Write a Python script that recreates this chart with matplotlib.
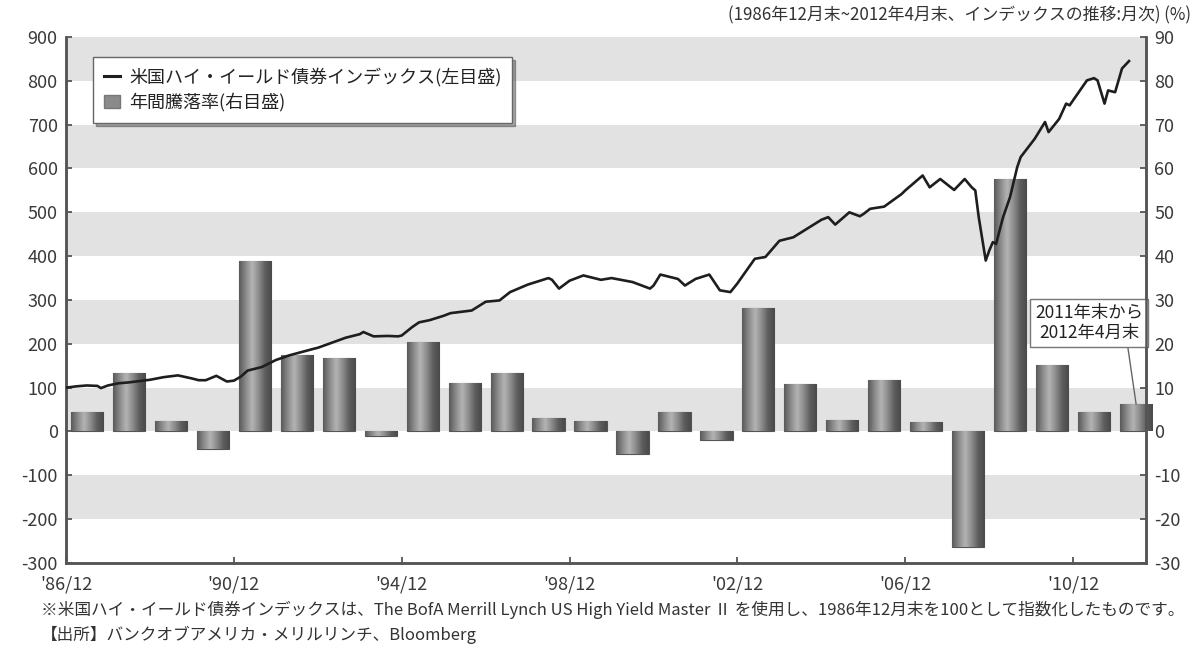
import matplotlib
matplotlib.use("Agg")
import matplotlib.pyplot as plt
import numpy as np
import pandas as pd
from matplotlib.lines import Line2D
from matplotlib.patches import Patch
from matplotlib.colors import LinearSegmentedColormap

plt.rcParams['font.family'] = ['Noto Sans CJK JP', 'DejaVu Sans']
plt.rcParams['axes.unicode_minus'] = False

# ---- data ----
# index (left axis), dates
idx_dates = ["1986-12", "1987-03", "1987-06", "1987-09", "1987-10", "1987-12", "1988-03", "1988-06",
             "1988-10", "1988-12", "1989-04", "1989-08", "1989-12", "1990-02", "1990-04", "1990-07",
             "1990-10", "1990-12", "1991-02", "1991-04", "1991-08", "1991-12", "1992-04", "1992-11",
             "1992-12", "1993-08", "1993-12", "1994-01", "1994-04", "1994-08", "1994-11", "1994-12",
             "1995-03", "1995-05", "1995-08", "1995-12", "1996-02", "1996-08", "1996-12", "1997-04",
             "1997-07", "1997-12", "1998-06", "1998-07", "1998-09", "1998-12", "1999-04", "1999-09",
             "1999-12", "2000-06", "2000-11", "2000-12", "2001-02", "2001-07", "2001-09", "2001-12",
             "2002-04", "2002-07", "2002-10", "2002-12", "2003-02", "2003-05", "2003-08", "2003-12",
             "2004-04", "2004-12", "2005-02", "2005-04", "2005-08", "2005-11", "2005-12", "2006-02",
             "2006-06", "2006-11", "2006-12", "2007-05", "2007-07", "2007-10", "2008-02", "2008-05",
             "2008-07", "2008-08", "2008-09", "2008-11", "2008-12", "2009-01", "2009-02", "2009-04",
             "2009-06", "2009-08", "2009-09", "2010-01", "2010-04", "2010-05", "2010-08", "2010-10",
             "2010-11", "2011-02", "2011-04", "2011-06", "2011-07", "2011-09", "2011-10", "2011-12",
             "2012-02", "2012-04"]
idx_values = [100, 103, 105, 104, 99, 105, 110, 112,
              116, 118, 124, 128, 121, 117, 117, 127,
              114, 116, 125, 139, 147, 163, 174, 189,
              191, 214, 222, 227, 217, 218, 217, 219,
              238, 249, 254, 264, 270, 276, 296, 299,
              318, 335, 350, 346, 326, 344, 356, 346,
              350, 341, 326, 333, 358, 348, 333, 348,
              358, 322, 318, 338, 360, 394, 398, 435,
              443, 483, 489, 472, 500, 491, 496, 508,
              513, 542, 550, 584, 557, 576, 551, 576,
              557, 550, 489, 390, 413, 432, 428, 489,
              535, 603, 626, 668, 706, 683, 713, 748,
              744, 778, 801, 806, 801, 748, 778, 774,
              828, 845]

# annual return (right axis, %)
bar_years = list(range(1987, 2013))
bar_values = [4.5, 13.3, 2.3, -4.1, 39.0, 17.4, 16.7, -1.0, 20.5, 11.1, 13.3, 3.0, 2.5,
              -5.1, 4.5, -1.9, 28.2, 10.9, 2.7, 11.8, 2.2, -26.4, 57.5, 15.2, 4.4, 6.2]

xtick_dates = ["1986-12", "1990-12", "1994-12", "1998-12", "2002-12", "2006-12", "2010-12"]
xtick_labels = ["'86/12", "'90/12", "'94/12", "'98/12", "'02/12", "'06/12", "'10/12"]
left_ticks = list(range(-300, 1000, 100))
right_ticks = list(range(-30, 100, 10))

line_label = "米国ハイ・イールド債券インデックス(左目盛)"
bar_label = "年間騰落率(右目盛)"
annot_text = "2011年末から\n2012年4月末"
caption = "(1986年12月末~2012年4月末、インデックスの推移:月次) (%)"
note1 = "※米国ハイ・イールド債券インデックスは、The BofA Merrill Lynch US High Yield Master Ⅱ を使用し、1986年12月末を100として指数化したものです。"
note2 = "【出所】バンクオブアメリカ・メリルリンチ、Bloomberg"

# ---- figure ----
fig = plt.figure(figsize=(11.96, 6.52), dpi=100)
ax = fig.add_axes([0.0552, 0.1365, 0.9030, 0.8068])
ax2 = ax.twinx()
ax.set_zorder(ax2.get_zorder() + 1)
ax.patch.set_visible(False)

tc = '#3a3a3a'
x_idx = pd.to_datetime(idx_dates) + pd.offsets.MonthEnd(0)
bar_x = pd.to_datetime([f"{y}-07-01" for y in bar_years])

# background bands
for lo in range(-20, 90, 20):
    ax2.axhspan(lo, lo + 10, color='#e2e2e2', zorder=0, lw=0)

# bars with cylinder gradient
bw = pd.Timedelta(days=280)
bars = ax2.bar(bar_x, bar_values, width=bw, color='#888888', edgecolor='#555555', linewidth=0.8, zorder=2)
cmap = LinearSegmentedColormap.from_list('cyl', ['#5a5a5a', '#8a8a8a', '#b4b4b4', '#8c8c8c', '#5e5e5e', '#4a4a4a'])
grad = np.linspace(0, 1, 64).reshape(1, -1)
for b in bars:
    x0, y0 = b.get_x(), b.get_y()
    w, h = b.get_width(), b.get_height()
    im = ax2.imshow(grad, cmap=cmap, aspect='auto', extent=[x0, x0 + w, y0, y0 + h], zorder=2.5,
                    interpolation='bicubic')
    im.set_clip_path(b)
ax2.set_ylim(-30, 90)
ax2.set_yticks(right_ticks)

ax.plot(x_idx, idx_values, color='#1e1e1e', lw=1.9, zorder=5, solid_joinstyle='round')
ax.set_ylim(-300, 900)
ax.set_yticks(left_ticks)
ax.set_xlim(pd.Timestamp("1986-12-31"), pd.Timestamp("2012-09-25"))
ax.set_xticks(pd.to_datetime(xtick_dates) + pd.offsets.MonthEnd(0))
ax.set_xticklabels(xtick_labels)

for a in (ax, ax2):
    a.spines['top'].set_visible(False)
    for s in ('left', 'right', 'bottom'):
        a.spines[s].set_color('#555555')
        a.spines[s].set_linewidth(1.8)
    a.tick_params(direction='in', length=4, width=1.3, color='#555555', labelsize=13, labelcolor=tc)
ax.tick_params(axis='x', pad=9)
ax.tick_params(axis='y', pad=6)
ax2.tick_params(axis='y', pad=6)
ax2.set_xlim(ax.get_xlim())

# legend
handles = [Line2D([0], [0], color='#1e1e1e', lw=2.2),
           Patch(facecolor='#8a8a8a', edgecolor='#777777')]
leg = ax.legend(handles, [line_label, bar_label], loc='upper left', bbox_to_anchor=(0.025, 0.962),
                fontsize=13, frameon=True, fancybox=False, shadow=True, edgecolor='#666666',
                handlelength=0.9, handleheight=0.7, handletextpad=0.5, borderpad=0.6,
                labelspacing=0.35, borderaxespad=0)
leg.get_frame().set_linewidth(1.0)
for t in leg.get_texts():
    t.set_color('#222222')

# annotation
ax2.annotate(annot_text, xy=(bar_x[-1], bar_values[-1]), xytext=(pd.Timestamp("2011-05-20"), 24.8),
             ha='center', va='center', fontsize=12.5, color='#222222', linespacing=1.15,
             bbox=dict(boxstyle='square,pad=0.3', fc='white', ec='#777777', lw=1.0),
             arrowprops=dict(arrowstyle='-', color='#666666', lw=1.0, shrinkA=0, shrinkB=0,
                             relpos=(0.85, 0.0)),
             zorder=6)

fig.text(0.9955, 0.962, caption, ha='right', va='bottom', fontsize=12.2, color='#333333')
fig.text(0.034, 0.064, note1, ha='left', va='center', fontsize=12, color='#333333')
fig.text(0.034, 0.027, note2, ha='left', va='center', fontsize=12, color='#333333')

fig.savefig('out.png', dpi=100)
